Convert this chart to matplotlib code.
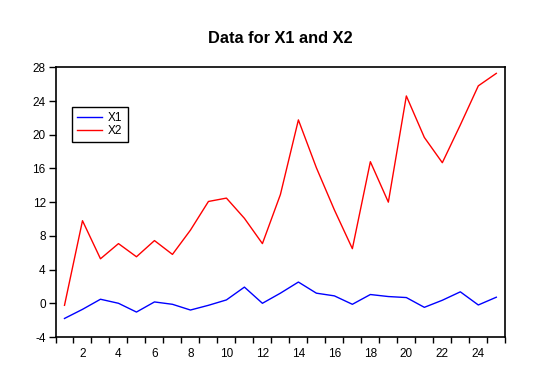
import matplotlib
matplotlib.use("Agg")
import matplotlib.pyplot as plt
import numpy as np

plt.rcParams['font.family'] = ['Liberation Sans', 'DejaVu Sans']

obs = list(range(1, 26))
x1 = [-1.8, -0.72, 0.48, 0.0, -1.04, 0.16, -0.12, -0.8, -0.24, 0.4, 1.92, 0.0, 1.2,
      2.52, 1.2, 0.88, -0.12, 1.04, 0.8, 0.68, -0.48, 0.36, 1.36, -0.2, 0.72]
x2 = [-0.24, 9.8, 5.28, 7.08, 5.52, 7.44, 5.8, 8.68, 12.08, 12.48, 10.08, 7.08, 12.9,
      21.76, 16.08, 11.08, 6.48, 16.8, 12.0, 24.6, 19.68, 16.68, 21.16, 25.8, 27.28]
y_ticks = [-4, 0, 4, 8, 12, 16, 20, 24, 28]
x_labels = [2, 4, 6, 8, 10, 12, 14, 16, 18, 20, 22, 24]

fig = plt.figure(figsize=(5.37, 3.84), dpi=100)
ax = fig.add_axes([55.5/537, 1-337/384, (505.3-55.5)/537, (337-67.3)/384])

ax.plot(obs, x1, color='#0000ff', lw=1.0, label='X1')
ax.plot(obs, x2, color='#ff0000', lw=1.0, label='X2')

ax.set_xlim(0.5, 25.5)
ax.set_ylim(-4, 28)
ax.set_yticks(y_ticks)
ax.set_yticklabels([str(v) for v in y_ticks])
ax.set_xticks(x_labels)
ax.set_xticklabels([str(v) for v in x_labels])
ax.set_xticks(np.arange(0.5, 25.6, 1.0), minor=True)
ax.tick_params(axis='x', which='major', length=0, pad=8, labelsize=8.5)
ax.tick_params(axis='x', which='minor', length=4, width=1, direction='out')
ax.tick_params(axis='y', which='major', length=5, width=1, direction='out', pad=2, labelsize=8.5)
for s in ax.spines.values():
    s.set_linewidth(1.2)

ax.set_title('Data for X1 and X2', fontsize=11.8, fontweight='bold', pad=17.5)

leg = ax.legend(loc='upper left', bbox_to_anchor=(0.036, 0.854), fontsize=8.5,
                frameon=True, fancybox=False, framealpha=1, edgecolor='black',
                borderpad=0.45, handlelength=2.15, handletextpad=0.47, labelspacing=0.1,
                borderaxespad=0)
leg.get_frame().set_linewidth(1.0)

fig.savefig('out.png', dpi=100)
